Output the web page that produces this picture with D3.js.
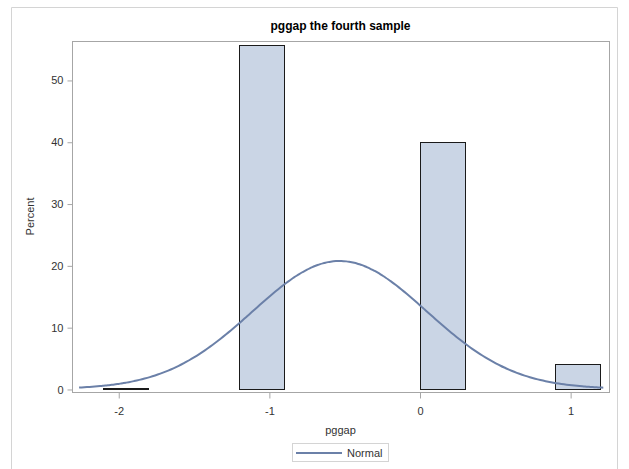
<!DOCTYPE html>
<html>
<head>
<meta charset="utf-8">
<script src="https://cdn.jsdelivr.net/npm/d3@7"></script>
<style>
  html, body { margin: 0; padding: 0; background: #fff; }
  svg { display: block; font-family: "Liberation Sans", Arial, sans-serif; }
</style>
</head>
<body>
<svg id="chart" width="629" height="469"></svg>
<script>
// Histogram bins of pggap (bin width 0.3) and their percentages
const binEdges = [-2.1, -1.8, -1.5, -1.2, -0.9, -0.6, -0.3, 0.0, 0.3, 0.6, 0.9, 1.2];
const binPercents = [0.2, 0, 0, 55.6, 0, 0, 0, 39.9, 0, 0, 4.1];

// Fitted normal distribution
const normalMu = -0.53;
const normalSigma = 0.578;
const curveRange = [-2.26, 1.22];

const xTicks = [-2, -1, 0, 1];
const yTicks = [0, 10, 20, 30, 40, 50];

const titleText = "pggap the fourth sample";
const xLabel = "pggap";
const yLabel = "Percent";
const legendLabel = "Normal";

const svg = d3.select("#chart");

const frame = { left: 72, right: 609, top: 41, bottom: 392 };

const x = d3.scaleLinear().domain([-2.307, 1.258]).range([frame.left, frame.right]);
const y = d3.scaleLinear().domain([-0.49, 56.3]).range([frame.bottom, frame.top]);

// outer border of the graph area
svg.append("path")
  .attr("d", "M11.5,469 V7.5 H617.5 V469")
  .attr("fill", "none")
  .attr("stroke", "#d4d4d4")
  .attr("stroke-width", 1);

// title
svg.append("text")
  .attr("x", (frame.left + frame.right) / 2)
  .attr("y", 30)
  .attr("text-anchor", "middle")
  .attr("font-size", 12)
  .attr("font-weight", "bold")
  .attr("fill", "#000")
  .text(titleText);

// histogram bars
const bins = binPercents.map((v, i) => ({ x0: binEdges[i], x1: binEdges[i + 1], v }));
svg.append("g")
  .selectAll("rect")
  .data(bins)
  .join("rect")
  .attr("x", d => Math.round(x(d.x0)) + 0.5)
  .attr("width", d => Math.round(x(d.x1)) - Math.round(x(d.x0)))
  .attr("y", d => Math.round(y(d.v)) + 0.5)
  .attr("height", d => Math.max(0, Math.round(y(0)) - Math.round(y(d.v))))
  .attr("fill", "#cad5e5")
  .attr("stroke", d => d.v > 0 ? "#1a1a1a" : "#8c8c8c")
  .attr("stroke-width", 1);

// normal curve
const curvePts = d3.range(0, 201).map(i => {
  const xv = curveRange[0] + (curveRange[1] - curveRange[0]) * i / 200;
  const z = (xv - normalMu) / normalSigma;
  const pct = 100 * 0.3 * Math.exp(-0.5 * z * z) / (normalSigma * Math.sqrt(2 * Math.PI));
  return [xv, pct];
});
svg.append("path")
  .datum(curvePts)
  .attr("d", d3.line().x(d => x(d[0])).y(d => y(d[1])).curve(d3.curveMonotoneX))
  .attr("fill", "none")
  .attr("stroke", "#6b80a8")
  .attr("stroke-width", 2);

// plot frame
svg.append("rect")
  .attr("x", frame.left + 0.5)
  .attr("y", frame.top + 0.5)
  .attr("width", frame.right - frame.left)
  .attr("height", frame.bottom - frame.top)
  .attr("fill", "none")
  .attr("stroke", "#a6a6a6")
  .attr("stroke-width", 1);

// axes
const xAxis = svg.append("g")
  .attr("transform", `translate(0.5,${frame.bottom + 0.5})`)
  .call(d3.axisBottom(x).tickValues(xTicks).tickSize(6).tickPadding(9).tickFormat(d => String(d)));
const yAxis = svg.append("g")
  .attr("transform", `translate(${frame.left + 0.5},0.5)`)
  .call(d3.axisLeft(y).tickValues(yTicks).tickSize(5).tickPadding(4).tickFormat(d => String(d)));
[xAxis, yAxis].forEach(g => {
  g.select(".domain").remove();
  g.selectAll(".tick line").attr("stroke", "#a6a6a6");
  g.selectAll(".tick text")
    .attr("fill", "#333")
    .attr("font-size", 11)
    .attr("font-family", "'Liberation Sans', Arial, sans-serif");
});

// axis labels
svg.append("text")
  .attr("x", (frame.left + frame.right) / 2)
  .attr("y", 434)
  .attr("text-anchor", "middle")
  .attr("font-size", 11)
  .attr("fill", "#333")
  .text(xLabel);
svg.append("text")
  .attr("transform", `translate(34,${(frame.top + frame.bottom) / 2}) rotate(-90)`)
  .attr("text-anchor", "middle")
  .attr("font-size", 11)
  .attr("fill", "#333")
  .text(yLabel);

// legend
const legend = svg.append("g").attr("transform", "translate(292,443)");
legend.append("rect")
  .attr("x", 0.5).attr("y", 0.5)
  .attr("width", 96).attr("height", 18)
  .attr("fill", "#fff")
  .attr("stroke", "#d4d4d4");
legend.append("line")
  .attr("x1", 4).attr("x2", 50)
  .attr("y1", 10).attr("y2", 10)
  .attr("stroke", "#6b80a8")
  .attr("stroke-width", 2);
legend.append("text")
  .attr("x", 55).attr("y", 14)
  .attr("font-size", 11)
  .attr("fill", "#333")
  .text(legendLabel);
</script>
</body>
</html>
